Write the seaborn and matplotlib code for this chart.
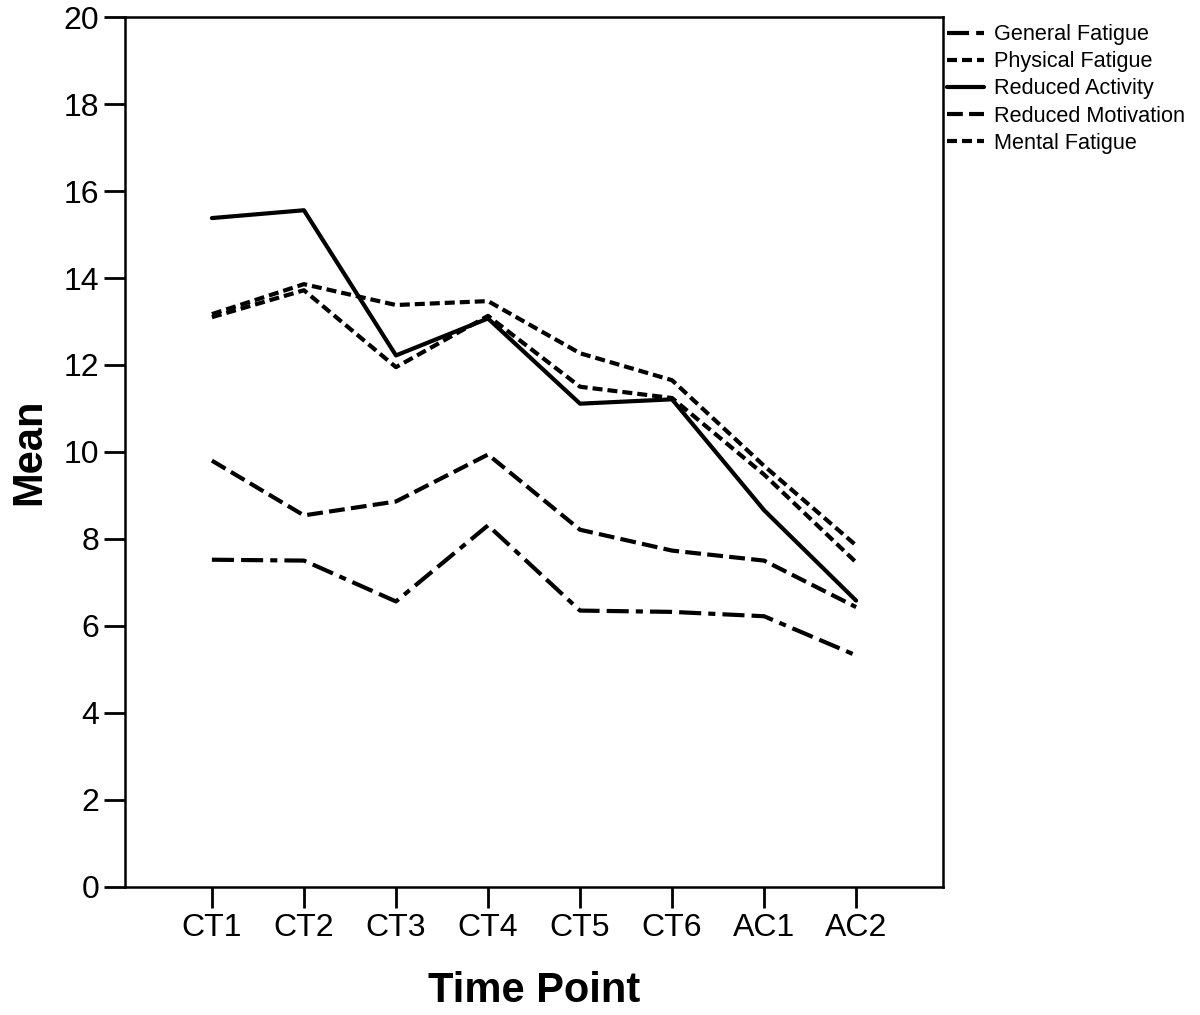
import pandas as pd
import seaborn as sns
import matplotlib.pyplot as plt

# time points on the x axis
time_points = ["CT1", "CT2", "CT3", "CT4", "CT5", "CT6", "AC1", "AC2"]

# mean scores per subscale
general_fatigue = [7.52, 7.50, 6.56, 8.31, 6.35, 6.32, 6.22, 5.32]
physical_fatigue = [13.17, 13.86, 13.38, 13.47, 12.27, 11.65, 9.68, 7.85]
reduced_activity = [15.38, 15.56, 12.22, 13.07, 11.11, 11.21, 8.66, 6.58]
reduced_motivation = [9.80, 8.54, 8.86, 9.94, 8.21, 7.73, 7.50, 6.43]
mental_fatigue = [13.10, 13.72, 11.95, 13.13, 11.50, 11.24, 9.48, 7.46]

scales = ["General Fatigue", "Physical Fatigue", "Reduced Activity",
          "Reduced Motivation", "Mental Fatigue"]
series = [general_fatigue, physical_fatigue, reduced_activity,
          reduced_motivation, mental_fatigue]

rows = []
for name, vals in zip(scales, series):
    for i, v in enumerate(vals):
        rows.append({"Time Point": i, "Mean": v, "Scale": name})
df = pd.DataFrame(rows)

# dash patterns in units of line width
dash_map = {
    "General Fatigue": (5.3, 1.7, 5.3, 1.7, 1.7, 1.7),
    "Physical Fatigue": (2.4, 1.2),
    "Reduced Activity": "",
    "Reduced Motivation": (3.8, 1.5),
    "Mental Fatigue": (2.4, 1.2),
}

sns.set_style("white")
plt.rcParams['font.family'] = ['Liberation Sans', 'DejaVu Sans']
plt.rcParams['text.color'] = 'black'
plt.rcParams['axes.labelcolor'] = 'black'
plt.rcParams['xtick.color'] = 'black'
plt.rcParams['ytick.color'] = 'black'

fig = plt.figure(figsize=(12, 10.15), dpi=100)
ax = fig.add_axes([0.1045, 0.1265, 0.681, 0.8565])

sns.lineplot(data=df, x="Time Point", y="Mean", style="Scale",
             style_order=scales, dashes=dash_map, color="black",
             linewidth=3, ax=ax, legend=True)

ax.set_xlim(-0.94, 7.94)
ax.set_ylim(0, 20)
ax.set_xticks(range(len(time_points)))
ax.set_xticklabels(time_points)
ax.set_yticks(range(0, 21, 2))
ax.tick_params(axis="both", direction="out", length=15, width=2,
               labelsize=23, color="black", labelcolor="black", pad=4,
               left=True, bottom=True)
for sp in ax.spines.values():
    sp.set_color("black")
    sp.set_linewidth(1.8)

ax.set_xlabel("Time Point", fontsize=30, fontweight="bold", labelpad=20,
              color="black")
ax.set_ylabel("Mean", fontsize=30, fontweight="bold", labelpad=10,
              color="black")

handles, labels = ax.get_legend_handles_labels()
leg = ax.legend(handles, labels, loc="upper left",
                bbox_to_anchor=(0.789, 0.976),
                bbox_transform=fig.transFigure, frameon=False, fontsize=15.6,
                handlelength=1.7, handletextpad=0.5, labelspacing=0.28,
                borderpad=0, borderaxespad=0)
for t in leg.get_texts():
    t.set_color("black")

fig.savefig("out.png", dpi=100)
